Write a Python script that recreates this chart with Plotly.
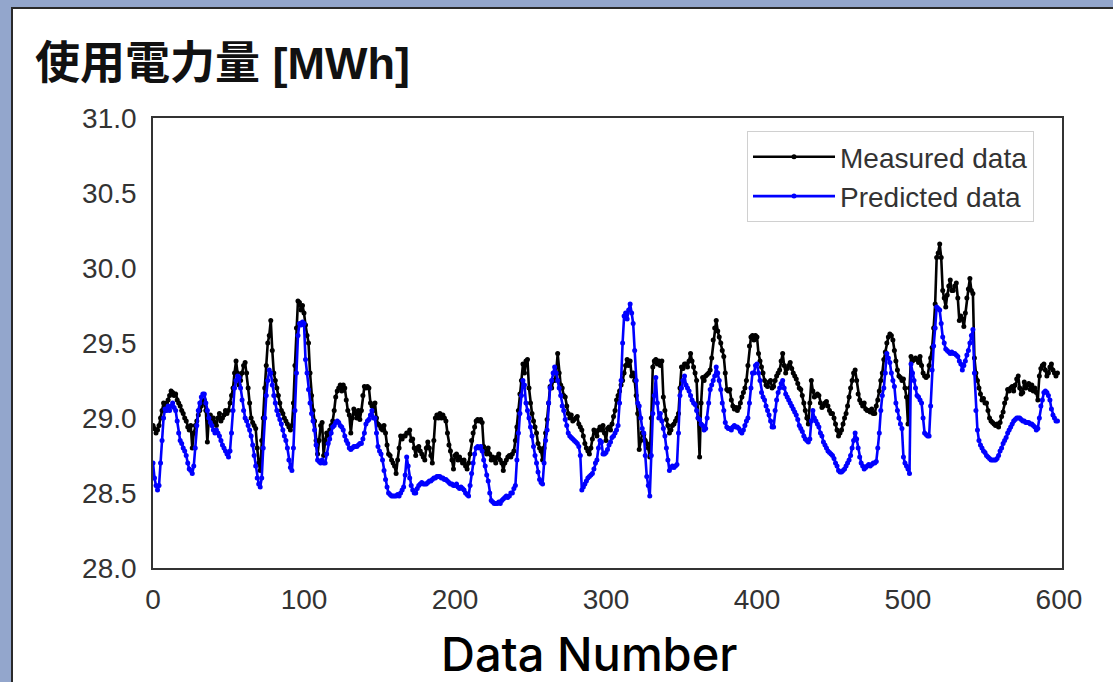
import plotly.graph_objects as go

# ---------------- data ----------------
measured = [
    28.95, 28.93, 28.90, 28.92, 28.95, 29.00, 29.05, 29.10, 29.05, 29.10,
    29.12, 29.15, 29.18, 29.17, 29.15, 29.16, 29.12, 29.10, 29.08, 29.05,
    29.03, 29.00, 28.98, 28.94, 28.92, 28.95, 28.80, 28.90, 28.95, 28.98,
    29.02, 29.05, 29.08, 29.10, 29.12, 29.05, 28.84, 29.00, 29.02, 28.98,
    29.00, 28.97, 28.95, 29.00, 29.03, 28.98, 29.00, 29.02, 29.05, 29.03,
    29.05, 29.10, 29.15, 29.20, 29.30, 29.38, 29.30, 29.22, 29.25, 29.30,
    29.35, 29.37, 29.30, 29.20, 29.10, 29.00, 28.97, 28.95, 28.93, 28.80,
    28.70, 28.65, 28.85, 29.00, 29.20, 29.35, 29.50, 29.55, 29.65, 29.45,
    29.30, 29.25, 29.20, 29.15, 29.10, 29.05, 29.03, 29.00, 28.98, 28.96,
    28.94, 28.92, 28.95, 29.10, 29.35, 29.60, 29.78, 29.77, 29.72, 29.75,
    29.70, 29.62, 29.55, 29.50, 29.30, 29.15, 29.05, 28.98, 28.85, 28.76,
    28.85, 28.95, 28.97, 28.75, 28.85, 28.90, 28.88, 28.92, 28.95, 28.98,
    29.05, 29.14, 29.18, 29.20, 29.22, 29.18, 29.22, 29.20, 29.12, 29.05,
    29.02, 28.90, 29.00, 29.06, 29.03, 29.00, 29.05, 28.99, 29.05, 29.15,
    29.21, 29.20, 29.21, 29.20, 29.10, 29.08, 29.05, 29.10, 29.00, 28.96,
    28.95, 28.93, 28.92, 28.95, 28.90, 28.82, 28.76, 28.75, 28.72, 28.70,
    28.68, 28.63, 28.72, 28.80, 28.88, 28.86, 28.88, 28.88, 28.90, 28.90,
    28.92, 28.85, 28.86, 28.80, 28.75, 28.80, 28.81, 28.78, 28.76, 28.74,
    28.72, 28.80, 28.84, 28.80, 28.75, 28.70, 28.85, 29.00, 29.02, 29.00,
    29.03, 29.00, 29.02, 29.00, 28.98, 28.90, 28.82, 28.78, 28.72, 28.66,
    28.75, 28.76, 28.72, 28.74, 28.72, 28.70, 28.72, 28.68, 28.66, 28.70,
    28.76, 28.85, 28.90, 28.94, 28.98, 28.99, 28.98, 28.99, 28.97, 28.81,
    28.78, 28.76, 28.80, 28.76, 28.72, 28.74, 28.72, 28.70, 28.74, 28.76,
    28.72, 28.70, 28.65, 28.70, 28.72, 28.74, 28.75, 28.74, 28.76, 28.78,
    28.85, 28.94, 29.05, 29.16, 29.25, 29.36, 29.30, 29.38, 29.39, 29.20,
    29.10, 29.03, 28.98, 28.94, 28.90, 28.83, 28.80, 28.78, 28.72, 28.80,
    28.90, 28.99, 29.10, 29.21, 29.20, 29.25, 29.25, 29.30, 29.43, 29.30,
    29.22, 29.20, 29.15, 29.14, 29.08, 29.03, 29.00, 29.02, 28.98, 28.99,
    29.00, 29.01, 28.96, 28.94, 28.92, 28.88, 28.83, 28.80, 28.78, 28.76,
    28.80, 28.86, 28.92, 28.90, 28.88, 28.92, 28.94, 28.92, 28.95, 28.90,
    28.85, 28.93, 28.94, 28.92, 28.96, 29.01, 29.05, 29.12, 29.15, 29.18,
    29.22, 29.25, 29.30, 29.35, 29.39, 29.35, 29.38, 29.28, 29.30, 29.25,
    29.15, 29.03, 28.79, 28.85, 28.90, 28.89, 28.85, 28.83, 28.80, 28.74,
    29.00, 29.34, 29.38, 29.39, 29.36, 29.38, 29.35, 29.38, 29.14, 29.05,
    28.99, 28.95, 28.90, 28.92, 28.95, 28.96, 28.98, 29.00, 29.03, 29.20,
    29.34, 29.33, 29.36, 29.36, 29.34, 29.38, 29.43, 29.38, 29.34, 29.30,
    29.25, 29.00, 28.74, 29.10, 29.27, 29.25, 29.28, 29.29, 29.30, 29.32,
    29.40, 29.52, 29.60, 29.65, 29.58, 29.54, 29.50, 29.45, 29.41, 29.30,
    29.19, 29.18, 29.19, 29.12, 29.08, 29.06, 29.07, 29.05, 29.07, 29.10,
    29.14, 29.17, 29.20, 29.25, 29.35, 29.48, 29.54, 29.55, 29.52, 29.55,
    29.54, 29.43, 29.38, 29.34, 29.30, 29.25, 29.22, 29.21, 29.24, 29.25,
    29.20, 29.21, 29.25, 29.28, 29.30, 29.32, 29.38, 29.43, 29.35, 29.30,
    29.33, 29.35, 29.37, 29.33, 29.30, 29.28, 29.26, 29.23, 29.20, 29.19,
    29.15, 29.10, 29.05, 29.00, 28.96, 29.10, 29.25, 29.18, 29.14, 29.15,
    29.16, 29.15, 29.10, 29.07, 29.08, 29.10, 29.11, 29.08, 29.05, 29.03,
    29.03, 29.00, 28.96, 28.92, 28.88, 28.90, 28.92, 28.96, 29.00, 29.03,
    29.08, 29.14, 29.20, 29.25, 29.30, 29.32, 29.25, 29.16, 29.12, 29.10,
    29.08, 29.10, 29.06, 29.05, 29.05, 29.04, 29.06, 29.03, 29.03, 29.08,
    29.12, 29.18, 29.25, 29.30, 29.39, 29.44, 29.50, 29.54, 29.56, 29.55,
    29.52, 29.45, 29.38, 29.32, 29.28, 29.27, 29.25, 29.26, 29.20, 29.14,
    28.96, 29.20, 29.41, 29.38, 29.39, 29.40, 29.39, 29.37, 29.41, 29.35,
    29.30, 29.28, 29.27, 29.28, 29.35, 29.40, 29.47, 29.60, 29.76, 30.07,
    30.10, 30.16, 30.07, 29.85, 29.80, 29.74, 29.82, 29.88, 29.92, 29.85,
    29.85, 29.88, 29.90, 29.80, 29.65, 29.68, 29.66, 29.61, 29.70, 29.80,
    29.86, 29.93, 29.85, 29.83, 29.40, 29.30, 29.25, 29.20, 29.16, 29.12,
    29.13, 29.10, 29.10, 29.05, 29.00, 28.98, 28.97, 28.96, 28.95, 28.96,
    28.94, 28.97, 29.01, 29.04, 29.10, 29.13, 29.19, 29.18, 29.20, 29.21,
    29.18, 29.22, 29.26, 29.28, 29.20, 29.16, 29.17, 29.24, 29.20, 29.22,
    29.23, 29.19, 29.22, 29.18, 29.20, 29.17, 29.12, 29.28, 29.33, 29.35,
    29.36, 29.32, 29.28, 29.30, 29.34, 29.36, 29.32, 29.30, 29.28, 29.30,
]

predicted = [
    28.70, 28.60, 28.55, 28.52, 28.55, 28.70, 28.85, 29.00, 29.06, 29.05,
    29.08, 29.05, 29.08, 29.10, 29.07, 29.05, 28.98, 28.90, 28.85, 28.83,
    28.80, 28.78, 28.75, 28.70, 28.66, 28.65, 28.63, 28.68, 28.80, 28.95,
    29.05, 29.10, 29.14, 29.16, 29.16, 29.10, 29.05, 29.00, 28.97, 28.95,
    28.92, 28.90, 28.92, 28.90, 28.88, 28.85, 28.82, 28.80, 28.78, 28.76,
    28.74, 28.78, 28.90, 29.05, 29.20, 29.25, 29.28, 29.27, 29.20, 29.12,
    29.05, 29.00, 28.98, 28.95, 28.92, 28.88, 28.82, 28.75, 28.68, 28.60,
    28.56, 28.54, 28.60, 28.80, 29.00, 29.15, 29.25, 29.32, 29.30, 29.22,
    29.15, 29.10, 29.05, 29.02, 28.99, 28.96, 28.92, 28.88, 28.85, 28.80,
    28.72, 28.67, 28.65, 28.80, 29.05, 29.30, 29.55, 29.63, 29.62, 29.64,
    29.63, 29.39, 29.30, 29.19, 29.10, 29.03, 28.98, 28.92, 28.82, 28.72,
    28.71, 28.70, 28.72, 28.70, 28.70, 28.76, 28.83, 28.86, 28.90, 28.94,
    28.95, 28.97, 28.98, 28.97, 28.95, 28.94, 28.92, 28.88, 28.85, 28.83,
    28.80, 28.79, 28.80, 28.81, 28.81, 28.81, 28.82, 28.83, 28.83, 28.86,
    28.90, 28.96, 28.98, 28.99, 29.02, 29.05, 29.00, 29.00, 28.90, 28.81,
    28.78, 28.76, 28.72, 28.65, 28.59, 28.54, 28.50, 28.49, 28.48, 28.48,
    28.48, 28.48, 28.49, 28.48, 28.50, 28.52, 28.54, 28.62, 28.74, 28.68,
    28.60, 28.55, 28.52, 28.50, 28.50, 28.53, 28.55, 28.56, 28.57, 28.56,
    28.56, 28.56, 28.57, 28.58, 28.58, 28.59, 28.60, 28.60, 28.61, 28.61,
    28.61, 28.60, 28.60, 28.59, 28.59, 28.58, 28.57, 28.56, 28.56, 28.55,
    28.55, 28.56, 28.54, 28.53, 28.54, 28.53, 28.52, 28.50, 28.49, 28.48,
    28.55, 28.63, 28.70, 28.76, 28.80, 28.81, 28.80, 28.81, 28.78, 28.72,
    28.68, 28.62, 28.58, 28.50, 28.45, 28.44, 28.43, 28.43, 28.43, 28.44,
    28.43, 28.45, 28.46, 28.47, 28.48, 28.47, 28.48, 28.50, 28.50, 28.53,
    28.55, 28.72, 28.90, 29.03, 29.15, 29.25, 29.22, 29.10, 29.05, 29.00,
    28.94, 28.88, 28.81, 28.75, 28.70, 28.64, 28.59, 28.57, 28.56, 28.70,
    28.85, 28.92, 29.10, 29.20, 29.25, 29.30, 29.34, 29.30, 29.25, 29.20,
    29.15, 29.08, 29.05, 28.99, 28.95, 28.90, 28.88, 28.87, 28.86, 28.85,
    28.84, 28.83, 28.81, 28.75, 28.52, 28.54, 28.56, 28.58, 28.60, 28.61,
    28.62, 28.63, 28.66, 28.70, 28.72, 28.80, 28.85, 28.84, 28.76, 28.76,
    28.77, 28.79, 28.82, 28.84, 28.87, 28.88, 28.90, 28.92, 28.95, 29.10,
    29.25, 29.50, 29.68, 29.70, 29.66, 29.72, 29.76, 29.70, 29.63, 29.45,
    29.25, 29.10, 29.08, 29.00, 28.93, 28.90, 28.75, 28.61, 28.55, 28.48,
    28.75, 29.03, 29.15, 29.27, 29.10, 29.00, 29.03, 28.98, 28.93, 28.88,
    28.80, 28.72, 28.65, 28.67, 28.68, 28.67, 28.68, 28.69, 28.90, 29.15,
    29.20, 29.25, 29.28, 29.22, 29.20, 29.18, 29.15, 29.12, 29.10, 29.09,
    29.05, 29.00, 28.99, 28.96, 28.95, 28.92, 28.93, 29.00, 29.10, 29.19,
    29.22, 29.25, 29.28, 29.34, 29.30, 29.25, 29.19, 29.10, 29.05, 28.97,
    28.94, 28.93, 28.93, 28.92, 28.94, 28.95, 28.94, 28.94, 28.93, 28.91,
    28.90, 28.92, 28.95, 28.98, 29.00, 29.10, 29.20, 29.30, 29.30, 29.35,
    29.36, 29.30, 29.25, 29.17, 29.14, 29.12, 29.08, 29.05, 29.02, 28.98,
    28.94, 28.94, 29.05, 29.12, 29.17, 29.20, 29.23, 29.25, 29.20, 29.16,
    29.14, 29.12, 29.10, 29.08, 29.06, 29.04, 29.02, 28.99, 28.95, 28.93,
    28.91, 28.88, 28.86, 28.85, 28.84, 28.86, 28.98, 29.05, 29.00, 28.98,
    28.96, 28.94, 28.90, 28.88, 28.84, 28.82, 28.80, 28.78, 28.77, 28.76,
    28.75, 28.73, 28.70, 28.68, 28.65, 28.64, 28.64, 28.65, 28.66, 28.68,
    28.70, 28.72, 28.75, 28.80, 28.85, 28.90, 28.86, 28.80, 28.74, 28.70,
    28.68, 28.66, 28.67, 28.68, 28.69, 28.68, 28.69, 28.70, 28.70, 28.71,
    28.80, 28.90, 29.05, 29.15, 29.20, 29.30, 29.43, 29.40, 29.37, 29.30,
    29.25, 29.21, 29.10, 29.05, 29.00, 28.96, 28.93, 28.74, 28.70, 28.68,
    28.66, 28.63, 29.36, 29.30, 29.25, 29.20, 29.15, 29.14, 29.12, 29.10,
    29.00, 28.90, 28.89, 28.88, 28.88, 29.08, 29.32, 29.48, 29.60, 29.74,
    29.73, 29.72, 29.63, 29.54, 29.50, 29.46, 29.45, 29.44, 29.43, 29.44,
    29.43, 29.43, 29.42, 29.41, 29.38, 29.36, 29.32, 29.35, 29.38, 29.42,
    29.45, 29.50, 29.55, 29.59, 29.30, 29.05, 28.92, 28.85, 28.82, 28.80,
    28.78, 28.77, 28.75, 28.74, 28.73, 28.72, 28.72, 28.72, 28.72, 28.73,
    28.75, 28.78, 28.80, 28.83, 28.85, 28.87, 28.90, 28.92, 28.94, 28.96,
    28.98, 28.99, 29.00, 29.00, 29.00, 28.99, 28.98, 28.98, 28.97, 28.97,
    28.97, 28.96, 28.96, 28.95, 28.94, 28.92, 28.93, 29.00, 29.08, 29.12,
    29.17, 29.18, 29.17, 29.15, 29.12, 29.06, 29.02, 29.00, 28.98, 28.98,
]

data_number = list(range(len(measured)))
y_ticks = [28.0, 28.5, 29.0, 29.5, 30.0, 30.5, 31.0]
x_ticks = [0, 100, 200, 300, 400, 500, 600]
series_names = ["Measured data", "Predicted data"]
title_text = "使用電力量 [MWh]"
xlabel_text = "Data Number"

# ---------------- figure ----------------
LATIN = "Liberation Sans, Arial, Noto Sans CJK JP, sans-serif"
L, R, T, B = 153, 1062, 118, 568
W, H = 1113, 682
PW, PH = R - L, B - T


def px_x(p):
    return (p - L) / PW


def px_y(p):
    return (B - p) / PH


fig = go.Figure()
fig.add_trace(go.Scatter(
    x=data_number, y=measured, name=series_names[0], mode="lines+markers",
    line=dict(color="black", width=2.6), marker=dict(color="black", size=5),
))
fig.add_trace(go.Scatter(
    x=data_number, y=predicted, name=series_names[1], mode="lines+markers",
    line=dict(color="#0000ff", width=2.6), marker=dict(color="#0000ff", size=5),
))

# window-like frame around the chart
fig.add_shape(type="rect", xref="paper", yref="paper", layer="below",
              x0=px_x(12), x1=px_x(1125), y0=px_y(8), y1=px_y(700),
              fillcolor="white", line=dict(color="#2a2a2a", width=2))

fig.add_annotation(text=f"<b>{title_text}</b>", xref="paper", yref="paper",
                   x=px_x(33), y=px_y(64), xanchor="left", yanchor="middle",
                   showarrow=False,
                   font=dict(family="Liberation Sans, Noto Sans CJK JP, sans-serif",
                             size=45, color="#111111"))
fig.add_annotation(text=xlabel_text, xref="paper", yref="paper",
                   x=px_x(589), y=px_y(653), xanchor="center", yanchor="middle",
                   showarrow=False,
                   font=dict(family="Inter, Liberation Sans, sans-serif",
                             size=47, color="#000000", weight=500))

axis_common = dict(showgrid=False, zeroline=False, showline=True, mirror=True,
                   linecolor="#333333", linewidth=1.6, ticks="",
                   tickfont=dict(family=LATIN, size=28, color="#333333"))

fig.update_xaxes(range=[0, 602], tickvals=x_ticks, ticklabelstandoff=6,
                 **axis_common)
fig.update_yaxes(range=[28.0, 31.0], tickvals=y_ticks, tickformat=".1f",
                 ticklabelstandoff=9, **axis_common)

fig.update_layout(
    width=W, height=H,
    margin=dict(l=L, r=W - R, t=T, b=H - B, pad=0),
    paper_bgcolor="#93a6cc", plot_bgcolor="white",
    showlegend=True,
    legend=dict(x=px_x(747), y=px_y(131), xanchor="left", yanchor="top",
                bgcolor="white", bordercolor="#d0d0d0", borderwidth=1,
                font=dict(family=LATIN, size=28, color="#333333"),
                itemwidth=82, tracegroupgap=0),
)

fig.write_html("out.html")
